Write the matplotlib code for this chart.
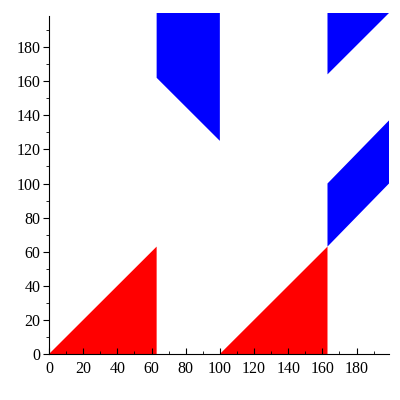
import matplotlib.pyplot as plt
from matplotlib.patches import Polygon

# region vertices (x, y)
red_regions = [
    [(0, 0), (63, 63), (63, 0)],
    [(100, 0), (163, 63), (163, 0)],
]
blue_regions = [
    [(63, 200), (63, 162), (100, 125), (100, 200)],
    [(163, 200), (163, 164), (199, 200)],
    [(163, 63), (199, 100), (199, 137), (163, 100)],
]
ticks = list(range(0, 200, 20))

plt.rcParams['font.family'] = ['Liberation Serif', 'DejaVu Serif']

fig = plt.figure(figsize=(4, 4), dpi=100)
ax = fig.add_axes([0.1225, 0.115, 0.85, 0.8525])

for verts in red_regions:
    ax.add_patch(Polygon(verts, closed=True, facecolor='#ff0000', edgecolor='none'))
for verts in blue_regions:
    ax.add_patch(Polygon(verts, closed=True, facecolor='#0000ff', edgecolor='none'))

ax.set_xlim(0, 199)
ax.set_ylim(0, 200)
ax.spines['top'].set_visible(False)
ax.spines['right'].set_visible(False)
ax.spines['left'].set_bounds(0, 198)

ax.set_xticks(ticks)
ax.set_yticks(ticks)
ax.set_xticks(range(10, 200, 20), minor=True)
ax.set_yticks(range(10, 200, 20), minor=True)
ax.tick_params(axis='x', which='both', direction='in', labelsize=11.5, pad=5)
ax.tick_params(axis='y', which='both', direction='out', labelsize=11.5, pad=2)
ax.tick_params(which='major', length=4)
ax.tick_params(which='minor', length=2.5)

fig.savefig('out.png', dpi=100)
